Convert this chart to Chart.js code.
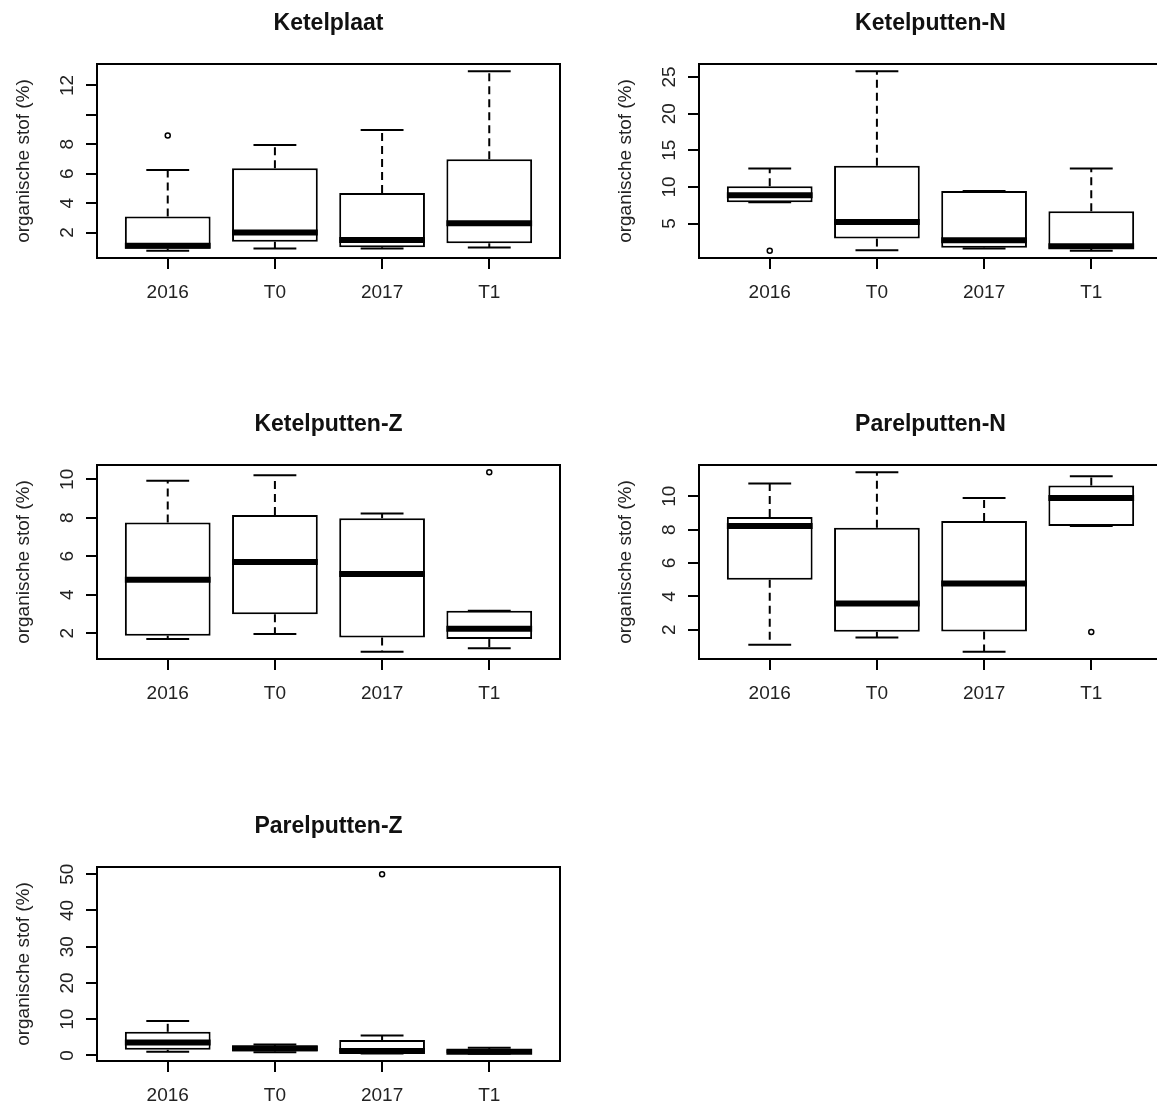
<!DOCTYPE html>
<html>
<head>
<meta charset="utf-8">
<title>Organische stof per gebied</title>
<script src="https://cdn.jsdelivr.net/npm/chart.js@4.4.1/dist/chart.umd.min.js"></script>
<style>
  html, body { margin: 0; padding: 0; background: #fff; width: 1157px; height: 1110px; overflow: hidden; }
  #page { position: relative; width: 1157px; height: 1110px; overflow: hidden; background: #fff; }
  #page canvas { position: absolute; }
</style>
</head>
<body>
<div id="page"></div>
<script>
// Sampling moments on the x axis
const categories = ['2016', 'T0', '2017', 'T1'];

// Box statistics per moment: [lower whisker, Q1, median, Q3, upper whisker]
const ketelplaatStats = [
  [0.76, 0.90, 1.10, 3.10, 6.25],
  [0.92, 1.38, 2.00, 6.37, 7.95],
  [0.92, 1.00, 1.50, 4.69, 8.97],
  [0.99, 1.27, 2.63, 6.98, 12.97]
];
const ketelplaatOutliers = [[0, 8.60]];          // [moment index, value]
const ketelplaatTicks = [2, 4, 6, 8, 10, 12];
const ketelplaatTickLabels = ['2', '4', '6', '8', '', '12'];

const ketelputtenNStats = [
  [7.90, 7.90, 8.88, 10.11, 12.53],
  [1.35, 2.95, 5.23, 12.90, 25.80],
  [1.58, 1.71, 2.72, 9.43, 9.43],
  [1.30, 1.55, 1.90, 6.69, 12.53]
];
const ketelputtenNOutliers = [[0, 1.28]];
const ketelputtenNTicks = [5, 10, 15, 20, 25];
const ketelputtenNTickLabels = ['5', '10', '15', '20', '25'];

const ketelputtenZStats = [
  [1.70, 1.88, 4.78, 7.76, 9.93],
  [1.97, 2.99, 5.70, 8.14, 10.21],
  [1.04, 1.79, 5.08, 7.98, 8.23],
  [1.23, 1.70, 2.24, 3.17, 3.17]
];
const ketelputtenZOutliers = [[3, 10.37]];
const ketelputtenZTicks = [2, 4, 6, 8, 10];
const ketelputtenZTickLabels = ['2', '4', '6', '8', '10'];

const parelputtenNStats = [
  [1.10, 4.99, 8.21, 8.75, 10.76],
  [1.54, 1.88, 3.58, 8.11, 11.44],
  [0.68, 1.90, 4.77, 8.51, 9.90],
  [8.21, 8.21, 9.90, 10.64, 11.20]
];
const parelputtenNOutliers = [[3, 1.86]];
const parelputtenNTicks = [2, 4, 6, 8, 10];
const parelputtenNTickLabels = ['2', '4', '6', '8', '10'];

const parelputtenZStats = [
  [1.05, 1.56, 3.60, 6.52, 9.47],
  [0.90, 1.10, 2.00, 2.60, 3.00],
  [0.55, 0.74, 1.20, 4.24, 5.52],
  [0.45, 0.60, 1.00, 1.50, 2.10]
];
const parelputtenZOutliers = [[2, 50.0]];
const parelputtenZTicks = [0, 10, 20, 30, 40, 50];
const parelputtenZTickLabels = ['0', '10', '20', '30', '40', '50'];

const yTitle = 'organische stof (%)';

// Panel grid: two columns, three rows (last row has one panel)
const panels = [
  { title: 'Ketelplaat',     stats: ketelplaatStats,   outliers: ketelplaatOutliers,   ticks: ketelplaatTicks,   labels: ketelplaatTickLabels,   col: 0, row: 0 },
  { title: 'Ketelputten-N',  stats: ketelputtenNStats, outliers: ketelputtenNOutliers, ticks: ketelputtenNTicks, labels: ketelputtenNTickLabels, col: 1, row: 0 },
  { title: 'Ketelputten-Z',  stats: ketelputtenZStats, outliers: ketelputtenZOutliers, ticks: ketelputtenZTicks, labels: ketelputtenZTickLabels, col: 0, row: 1 },
  { title: 'Parelputten-N',  stats: parelputtenNStats, outliers: parelputtenNOutliers, ticks: parelputtenNTicks, labels: parelputtenNTickLabels, col: 1, row: 1 },
  { title: 'Parelputten-Z',  stats: parelputtenZStats, outliers: parelputtenZOutliers, ticks: parelputtenZTicks, labels: parelputtenZTickLabels, col: 0, row: 2 }
];

const CELL_W = 602, CELL_H = 402;
const COL_X = [0, 602];
const ROW_Y = [0, 401, 803];
const INK = '#000';
const TEXT = '#222';
const FAMILY = '"Liberation Sans", Arial, Helvetica, sans-serif';
const AXIS_SIZE = 19;
const TITLE_SIZE = 23;

// Whiskers, staples, medians, plot frame, rotated y tick labels and panel title
const boxPlotDecor = {
  id: 'boxPlotDecor',
  beforeDatasetsDraw(chart, args, opts) {
    const { ctx, scales: { x, y } } = chart;
    const staple = x.getPixelForValue(1.2) - x.getPixelForValue(1);
    ctx.save();
    ctx.strokeStyle = INK;
    ctx.lineWidth = 2;
    ctx.lineCap = 'butt';
    opts.stats.forEach((s, i) => {
      const cx = x.getPixelForValue(i + 1);
      const lo = y.getPixelForValue(s[0]);
      const q1 = y.getPixelForValue(s[1]);
      const q3 = y.getPixelForValue(s[3]);
      const hi = y.getPixelForValue(s[4]);
      ctx.setLineDash([8, 5]);
      ctx.beginPath();
      ctx.moveTo(cx, q3); ctx.lineTo(cx, hi);
      ctx.stroke();
      ctx.beginPath();
      ctx.moveTo(cx, q1); ctx.lineTo(cx, lo);
      ctx.stroke();
      ctx.setLineDash([]);
      ctx.beginPath();
      ctx.moveTo(cx - staple, hi); ctx.lineTo(cx + staple, hi);
      ctx.moveTo(cx - staple, lo); ctx.lineTo(cx + staple, lo);
      ctx.stroke();
    });
    ctx.restore();
  },
  afterDatasetsDraw(chart, args, opts) {
    const { ctx, scales: { x, y } } = chart;
    const halfBox = x.getPixelForValue(1.4) - x.getPixelForValue(1);
    ctx.save();
    ctx.strokeStyle = INK;
    ctx.lineWidth = 6;
    ctx.lineCap = 'butt';
    opts.stats.forEach((s, i) => {
      const cx = x.getPixelForValue(i + 1);
      const m = y.getPixelForValue(s[2]);
      ctx.beginPath();
      ctx.moveTo(cx - halfBox, m); ctx.lineTo(cx + halfBox, m);
      ctx.stroke();
    });
    ctx.restore();
  },
  afterDraw(chart, args, opts) {
    const { ctx, chartArea: a, scales: { y } } = chart;
    ctx.save();
    // frame around the plot region
    ctx.strokeStyle = INK;
    ctx.lineWidth = 2;
    ctx.strokeRect(a.left, a.top, a.right - a.left, a.bottom - a.top);
    // y tick labels, parallel to the axis
    ctx.fillStyle = TEXT;
    ctx.font = AXIS_SIZE + 'px ' + FAMILY;
    ctx.textAlign = 'center';
    ctx.textBaseline = 'middle';
    opts.ticks.forEach((v, i) => {
      const lab = opts.labels[i];
      if (!lab) return;
      ctx.save();
      ctx.translate(67.5, y.getPixelForValue(v));
      ctx.rotate(-Math.PI / 2);
      ctx.fillText(lab, 0, 0);
      ctx.restore();
    });
    // panel title
    ctx.font = 'bold ' + TITLE_SIZE + 'px ' + FAMILY;
    ctx.textBaseline = 'alphabetic';
    ctx.fillStyle = '#111';
    ctx.fillText(opts.title, (a.left + a.right) / 2, 30);
    ctx.restore();
  }
};

function yRange(stats, outliers) {
  const vals = stats.flat().concat(outliers.map(o => o[1]));
  const lo = Math.min(...vals), hi = Math.max(...vals);
  const pad = (hi - lo) * 0.04;
  return [lo - pad, hi + pad];
}

const page = document.getElementById('page');

panels.forEach(p => {
  const canvas = document.createElement('canvas');
  canvas.width = CELL_W;
  canvas.height = CELL_H;
  canvas.style.left = COL_X[p.col] + 'px';
  canvas.style.top = ROW_Y[p.row] + 'px';
  canvas.style.width = CELL_W + 'px';
  canvas.style.height = CELL_H + 'px';
  page.appendChild(canvas);

  const [yMin, yMax] = yRange(p.stats, p.outliers);
  const n = categories.length;
  const xPad = n * 0.04;

  new Chart(canvas, {
    type: 'bar',
    data: {
      datasets: [
        {
          type: 'bar',
          data: p.stats.map((s, i) => ({ x: i + 1, y: [s[1], s[3]] })),
          backgroundColor: '#fff',
          borderColor: INK,
          borderWidth: 2,
          borderSkipped: false,
          barPercentage: 0.8,
          categoryPercentage: 1
        },
        {
          type: 'scatter',
          data: p.outliers.map(o => ({ x: o[0] + 1, y: o[1] })),
          pointRadius: 2.5,
          pointBorderWidth: 1.5,
          pointBackgroundColor: '#fff',
          pointBorderColor: INK
        }
      ]
    },
    options: {
      responsive: false,
      devicePixelRatio: 1,
      animation: false,
      events: [],
      layout: { padding: { left: 0, top: 64, right: 42, bottom: 0 } },
      scales: {
        x: {
          type: 'linear',
          offset: false,
          min: 0.5 - xPad,
          max: n + 0.5 + xPad,
          afterBuildTicks: axis => { axis.ticks = categories.map((c, i) => ({ value: i + 1 })); },
          afterFit: scale => { scale.height = CELL_H - 258; },
          ticks: {
            callback: v => categories[v - 1],
            font: { family: FAMILY, size: AXIS_SIZE, lineHeight: 1.2 },
            color: TEXT,
            padding: 12,
            maxRotation: 0,
            autoSkip: false
          },
          grid: { offset: false, drawOnChartArea: false, drawTicks: true, tickLength: 11, color: INK, lineWidth: 2 },
          border: { display: false }
        },
        y: {
          type: 'linear',
          min: yMin,
          max: yMax,
          afterBuildTicks: axis => { axis.ticks = p.ticks.map(v => ({ value: v })); },
          afterFit: scale => { scale.width = 97; },
          ticks: { display: false },
          grid: { drawOnChartArea: false, drawTicks: true, tickLength: 11, color: INK, lineWidth: 2 },
          border: { display: false },
          title: {
            display: true,
            text: yTitle,
            color: TEXT,
            font: { family: FAMILY, size: AXIS_SIZE, lineHeight: 1.2 },
            padding: { top: 12.6, bottom: 0 }
          }
        }
      },
      plugins: {
        legend: { display: false },
        tooltip: { enabled: false },
        boxPlotDecor: { stats: p.stats, ticks: p.ticks, labels: p.labels, title: p.title }
      }
    },
    plugins: [boxPlotDecor]
  });
});
</script>
</body>
</html>
